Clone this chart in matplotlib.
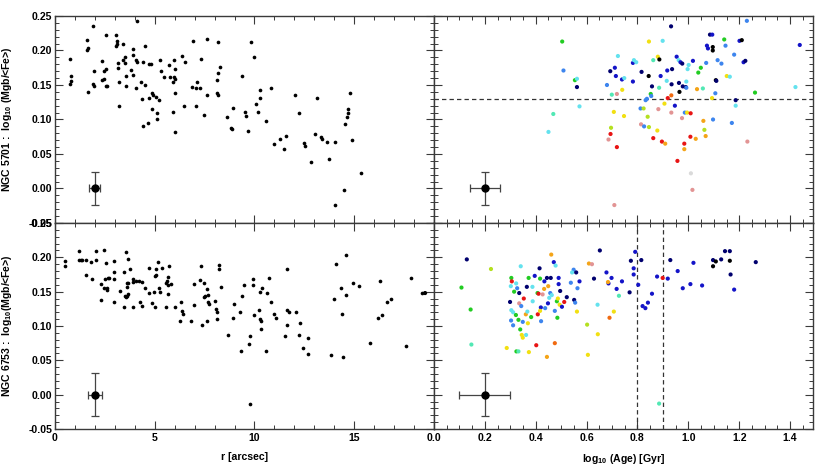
import matplotlib
matplotlib.use("Agg")
import matplotlib.pyplot as plt
from matplotlib.ticker import MultipleLocator, FixedLocator, FormatStrFormatter

plt.rcParams['font.family'] = ['Liberation Sans', 'DejaVu Sans']
plt.rcParams['font.weight'] = 'bold'
plt.rcParams['mathtext.fontset'] = 'custom'
plt.rcParams['mathtext.rm'] = 'Liberation Sans:bold'
plt.rcParams['mathtext.it'] = 'Liberation Sans:bold'
plt.rcParams['mathtext.bf'] = 'Liberation Sans:bold'
plt.rcParams['mathtext.default'] = 'rm'

# ---------------- data ----------------
# NGC 5701 : radius vs log10(Mgb/<Fe>)
r_5701 = [0.76,0.81,0.78,0.76,1.61,1.63,1.59,1.66,1.91,1.96,
          1.91,1.96,2.34,2.36,2.46,2.46,2.54,2.57,2.54,2.61,
          3.04,3.12,3.11,3.04,3.17,3.17,3.19,3.19,3.39,3.39,
          3.50,3.52,3.54,3.57,3.82,3.89,3.89,3.89,4.04,4.12,
          4.09,4.07,4.30,4.37,4.42,4.40,4.53,4.50,4.67,4.70,
          4.72,4.83,4.88,4.92,4.87,5.07,5.10,5.10,5.20,5.27,
          5.32,5.45,5.70,5.75,5.90,5.98,5.96,6.03,6.01,5.91,
          6.03,6.03,6.36,6.45,6.53,6.93,6.89,7.06,7.06,7.13,
          7.26,7.34,7.46,7.64,7.64,8.16,8.12,8.17,8.26,8.14,
          8.17,8.62,8.84,8.87,8.94,9.35,9.55,9.57,9.67,9.82,
          9.98,10.07,10.20,10.27,10.30,10.58,10.85,10.98,11.28,11.50,
          11.59,12.04,12.23,12.49,12.51,12.84,13.04,13.12,13.32,13.37,
          13.62,13.75,14.04,14.05,14.47,14.55,14.62,14.67,14.70,14.78,
          14.90,15.35]
mgfe_r_5701 = [0.188,0.163,0.156,0.151,0.215,0.203,0.200,0.140,0.235,0.170,
               0.152,0.149,0.185,0.157,0.158,0.170,0.223,0.173,0.148,0.148,
               0.223,0.214,0.210,0.206,0.182,0.175,0.155,0.120,0.209,0.186,
               0.182,0.190,0.163,0.148,0.172,0.202,0.194,0.164,0.186,0.184,
               0.243,0.145,0.154,0.129,0.183,0.090,0.207,0.150,0.095,0.131,
               0.181,0.181,0.138,0.136,0.115,0.133,0.110,0.100,0.128,0.186,
               0.171,0.162,0.179,0.161,0.155,0.161,0.186,0.173,0.158,0.111,
               0.139,0.082,0.192,0.119,0.183,0.214,0.147,0.145,0.120,0.155,
               0.146,0.187,0.107,0.216,0.136,0.213,0.157,0.168,0.176,0.138,
               0.136,0.104,0.088,0.086,0.116,0.163,0.111,0.105,0.084,0.213,
               0.191,0.123,0.111,0.131,0.143,0.098,0.145,0.065,0.072,0.057,
               0.076,0.135,0.109,0.066,0.061,0.039,0.079,0.131,0.075,0.072,
               0.068,0.043,0.068,-0.024,-0.002,0.093,0.103,0.109,0.115,0.138,
               0.071,0.022]

# NGC 5701 : log10(Age) vs log10(Mgb/<Fe>), colour class per point
age_5701 = [0.504,0.509,0.554,0.562,0.562,0.572,0.469,0.450,0.680,0.693,
            0.711,0.715,0.723,0.739,0.748,0.740,0.719,0.699,0.707,0.747,
            0.696,0.694,0.686,0.719,0.709,0.782,0.786,0.795,0.782,0.816,
            0.845,0.844,0.857,0.852,0.837,0.832,0.854,0.812,0.824,0.840,
            0.814,0.826,0.845,0.878,0.862,0.896,0.909,0.899,0.862,0.880,
            0.886,0.891,0.885,0.915,0.917,0.936,0.932,0.934,0.919,0.933,
            0.906,0.882,0.933,0.947,0.954,0.962,0.969,0.976,0.963,0.965,
            0.978,0.990,0.992,0.992,0.997,1.001,1.018,1.039,1.049,1.034,
            1.057,0.975,0.986,0.995,1.009,0.957,1.008,0.984,0.984,1.029,
            1.059,1.063,1.068,1.010,1.016,1.070,1.073,1.077,1.085,1.094,
            1.096,1.096,1.108,1.110,1.106,1.093,1.097,1.115,1.130,1.141,
            1.146,1.151,1.163,1.180,1.186,1.186,1.171,1.201,1.210,1.217,
            1.224,1.230,1.232,1.262,1.421,1.438]
mgfe_a_5701 = [0.213,0.171,0.157,0.159,0.147,0.119,0.108,0.082,0.150,0.170,
               0.175,0.163,0.192,0.158,0.160,0.143,0.137,0.136,0.111,0.105,
               0.088,0.079,0.071,0.060,-0.024,0.182,0.186,0.183,0.155,0.169,
               0.213,0.163,0.148,0.137,0.130,0.128,0.134,0.116,0.116,0.104,
               0.093,0.090,0.089,0.084,0.073,0.068,0.065,0.214,0.186,0.191,
               0.187,0.163,0.146,0.156,0.171,0.173,0.235,0.151,0.131,0.135,
               0.123,0.115,0.110,0.120,0.191,0.186,0.183,0.181,0.153,0.140,
               0.148,0.147,0.146,0.155,0.173,0.179,0.185,0.168,0.175,0.144,
               0.145,0.102,0.110,0.110,0.109,0.040,0.075,0.065,0.057,0.072,
               0.098,0.085,0.076,0.022,-0.002,0.182,0.207,0.203,0.223,0.223,
               0.205,0.200,0.157,0.156,0.138,0.131,0.100,0.186,0.181,0.216,
               0.207,0.163,0.162,0.194,0.128,0.120,0.095,0.214,0.215,0.183,
               0.185,0.243,0.068,0.139,0.147,0.208]
cls_5701 = ['G','L','G','C','N','C','A','C','L','N',
            'B','B','C','B','C','Y','P','A','Y','Y',
            'YG','R','P','R','P','B','C','C','B','N',
            'Y','K','N','G','L','L','L','L','YG','YG',
            'P','L','YG','Y','R','R','O','C','A','Y',
            'K','B','A','C','B','N','N','N','R','OR',
            'Y','P','P','B','B','C','B','N','N','K',
            'N','N','L','C','C','C','B','G','G','O',
            'A','P','L','Y','R','R','R','R','O','O',
            'O','YG','O','W','P','L','B','B','N','B',
            'K','K','K','N','L','Y','L','L','L','G',
            'L','Y','C','L','N','C','L','B','K','B',
            'N','L','P','G','C','B']

# NGC 6753 : radius vs log10(Mgb/<Fe>)
r_6753 = [0.51,0.51,1.21,1.21,1.28,1.35,1.54,1.81,2.04,2.04,
          1.83,1.54,2.33,2.33,2.44,2.57,2.52,2.66,2.71,2.46,
          2.61,2.61,2.94,2.94,2.94,2.96,3.24,3.44,3.44,3.57,
          3.67,3.59,3.65,3.62,3.54,3.52,3.62,3.67,3.77,3.92,
          3.92,3.92,4.05,4.19,4.27,4.35,4.35,4.53,4.72,4.72,
          4.85,4.95,5.00,5.05,5.03,5.07,5.17,5.23,5.28,5.35,
          5.55,5.56,5.61,5.66,5.66,5.73,5.68,5.81,6.03,6.31,
          6.28,6.36,6.41,6.81,6.96,6.98,7.28,7.31,7.36,7.46,
          7.48,7.51,7.62,7.61,7.69,7.66,7.73,8.02,8.06,8.12,
          8.12,8.22,8.22,8.32,8.69,8.92,8.97,9.32,9.35,9.29,
          9.49,9.73,9.80,9.77,9.93,9.95,10.00,10.22,10.27,10.38,
          10.28,10.32,10.32,10.60,10.61,10.71,10.85,10.98,11.08,11.51,
          11.64,11.63,11.64,11.72,12.08,12.21,12.29,12.43,12.67,12.69,
          13.82,13.97,14.09,14.32,14.40,14.42,14.57,14.59,14.92,15.23,
          15.78,16.20,16.28,16.40,16.64,16.86,17.59,17.86,18.41]
mgfe_r_6753 = [0.195,0.187,0.209,0.196,0.196,0.196,0.196,0.193,0.209,0.196,
               0.169,0.175,0.161,0.138,0.210,0.192,0.168,0.170,0.170,0.155,
               0.155,0.153,0.195,0.179,0.169,0.135,0.151,0.127,0.178,0.208,
               0.197,0.162,0.162,0.157,0.142,0.143,0.144,0.146,0.183,0.169,
               0.164,0.128,0.165,0.165,0.135,0.129,0.164,0.155,0.184,0.148,
               0.133,0.149,0.173,0.183,0.127,0.175,0.193,0.155,0.149,0.184,
               0.128,0.163,0.165,0.159,0.171,0.187,0.146,0.161,0.128,0.135,
               0.108,0.122,0.118,0.107,0.131,0.161,0.167,0.187,0.101,0.162,
               0.142,0.143,0.107,0.154,0.145,0.135,0.132,0.136,0.125,0.121,
               0.110,0.189,0.183,0.157,0.087,0.112,0.132,0.064,0.143,0.121,
               0.159,0.074,0.085,-0.013,0.169,0.160,0.116,0.123,0.149,0.155,
               0.110,0.108,0.095,0.063,0.148,0.170,0.135,0.118,0.112,0.086,
               0.183,0.102,0.123,0.121,0.121,0.087,0.104,0.068,0.059,0.083,
               0.058,0.140,0.191,0.155,0.118,0.055,0.204,0.145,0.162,0.158,
               0.075,0.112,0.165,0.116,0.135,0.140,0.071,0.170,0.148]

# NGC 6753 : log10(Age) vs log10(Mgb/<Fe>)
age_6753 = [-0.035,0.129,0.108,0.224,0.144,0.147,0.286,0.299,0.304,0.306,
            0.302,0.323,0.315,0.327,0.335,0.341,0.335,0.343,0.304,0.311,
            0.322,0.303,0.311,0.332,0.349,0.339,0.345,0.349,0.324,0.332,
            0.353,0.361,0.367,0.362,0.369,0.373,0.365,0.372,0.387,0.396,
            0.382,0.388,0.402,0.407,0.411,0.408,0.417,0.415,0.427,0.420,
            0.417,0.421,0.434,0.444,0.433,0.437,0.448,0.444,0.461,0.453,
            0.449,0.459,0.457,0.463,0.471,0.478,0.475,0.475,0.483,0.485,
            0.487,0.490,0.490,0.496,0.494,0.503,0.512,0.522,0.549,0.543,
            0.559,0.538,0.572,0.564,0.551,0.555,0.562,0.643,0.602,0.605,
            0.644,0.652,0.609,0.621,0.629,0.678,0.686,0.684,0.698,0.718,
            0.739,0.727,0.707,0.690,0.769,0.774,0.791,0.785,0.785,0.803,
            0.815,0.820,0.831,0.841,0.857,0.877,0.899,0.885,0.919,0.929,
            0.958,0.978,1.008,1.020,1.054,1.097,1.108,1.097,1.129,1.144,
            1.163,1.163,1.166,1.180,1.265]
mgfe_a_6753 = [0.148,0.197,0.156,0.183,0.124,0.073,0.068,0.135,0.170,0.165,
               0.158,0.162,0.150,0.155,0.148,0.187,0.133,0.129,0.123,0.120,
               0.116,0.108,0.101,0.109,0.106,0.095,0.087,0.083,0.063,0.063,
               0.140,0.117,0.121,0.087,0.104,0.062,0.157,0.170,0.157,0.173,
               0.113,0.136,0.072,0.148,0.147,0.117,0.169,0.184,0.146,0.127,
               0.122,0.107,0.165,0.170,0.154,0.126,0.133,0.055,0.204,0.141,
               0.158,0.170,0.148,0.145,0.193,0.188,0.075,0.122,0.136,0.112,
               0.140,0.170,0.161,0.151,0.131,0.128,0.135,0.142,0.182,0.178,
               0.178,0.163,0.165,0.155,0.138,0.134,0.121,0.131,0.102,0.058,
               0.088,0.210,0.191,0.190,0.169,0.178,0.162,0.164,0.170,0.154,
               0.165,0.144,0.121,0.112,0.149,0.195,0.208,0.184,0.175,0.160,
               0.196,0.129,0.126,0.134,0.147,0.172,0.170,-0.013,0.169,0.196,
               0.180,0.155,0.161,0.192,0.159,0.196,0.194,0.187,0.197,0.209,
               0.209,0.195,0.175,0.153,0.193]
cls_6753 = ['K','N','G','YG','G','A','Y','N','G','R',
            'C','C','G','L','N','C','P','L','C','C',
            'G','L','L','G','L','G','Y','Y','G','A',
            'R','O','C','C','Y','Y','N','G','C','B',
            'G','C','R','G','R','R','G','N','P','B',
            'Y','L','B','N','O','L','B','O','O','C',
            'O','N','L','C','B','C','OR','L','G','G',
            'Y','B','B','N','Y','B','R','N','L','C',
            'N','L','B','L','N','L','Y','C','YG','Y',
            'Y','N','O','P','N','B','B','O','B','B',
            'B','A','Y','OR','N','N','B','B','B','B',
            'N','B','B','B','B','B','R','A','B','N',
            'B','B','B','B','B','N','K','K','N','N',
            'N','K','N','B','N']

# typical error bars: (x, y, xerr, yerr)
err_r_5701 = (2.0, 0.0, 0.28, 0.024)
err_a_5701 = (0.2, 0.0, 0.06, 0.024)
err_r_6753 = (2.0, 0.0, 0.37, 0.031)
err_a_6753 = (0.2, 0.0, 0.10, 0.031)

hline_5701 = 0.13
vlines_6753 = [0.8, 0.9]

palette = {'K': '#000000', 'N': '#00006e', 'B': '#1414c8', 'L': '#3d85ee',
           'C': '#64e2ee', 'A': '#52e8b4', 'G': '#22cc22', 'YG': '#b4e020',
           'Y': '#f2e012', 'O': '#f4a418', 'OR': '#f06a10', 'R': '#e81414',
           'P': '#e29494', 'W': '#dadada'}

# ---------------- figure ----------------
fig = plt.figure(figsize=(8.3, 4.65), dpi=100)
W, H = 830.0, 465.0
def pos(x0, y0, x1, y1):
    return [x0 / W, 1 - y1 / H, (x1 - x0) / W, (y1 - y0) / H]

ax_tl = fig.add_axes(pos(55, 16, 434, 223))
ax_tr = fig.add_axes(pos(434, 16, 813, 223))
ax_bl = fig.add_axes(pos(55, 223, 434, 429))
ax_br = fig.add_axes(pos(434, 223, 813, 429))

frame_col = '#3a3a3a'
fs = 7.6

for ax in (ax_tl, ax_tr, ax_bl, ax_br):
    ax.set_ylim(-0.05, 0.25)
    ax.yaxis.set_major_locator(MultipleLocator(0.05))
    ax.yaxis.set_minor_locator(MultipleLocator(0.01))
    ax.yaxis.set_major_formatter(FormatStrFormatter('%.2f'))
    ax.tick_params(which='both', direction='in', top=True, right=True,
                   colors=frame_col, labelcolor='black', labelsize=fs)
    ax.tick_params(which='major', length=6, width=0.8)
    ax.tick_params(which='minor', length=3, width=0.7)
    ax.tick_params(axis='y', pad=2)
    ax.tick_params(axis='x', pad=3)
    for s in ax.spines.values():
        s.set_color(frame_col)
        s.set_linewidth(1.0)

for ax in (ax_tl, ax_bl):
    ax.set_xlim(0, 19)
    ax.xaxis.set_major_locator(FixedLocator([0, 5, 10, 15]))
    ax.xaxis.set_minor_locator(MultipleLocator(1))
    ax.xaxis.set_major_formatter(FormatStrFormatter('%d'))
for ax in (ax_tr, ax_br):
    ax.set_xlim(0, 1.49)
    ax.xaxis.set_major_locator(MultipleLocator(0.2))
    ax.xaxis.set_minor_locator(MultipleLocator(0.05))
    ax.xaxis.set_major_formatter(FormatStrFormatter('%.1f'))
    ax.tick_params(axis='y', labelleft=False)
for ax in (ax_tl, ax_tr):
    ax.tick_params(axis='x', labelbottom=False)

for lab in ax_tl.get_yticklabels() + ax_bl.get_yticklabels() + \
        ax_bl.get_xticklabels() + ax_br.get_xticklabels():
    lab.set_fontweight('bold')

# black points
ax_tl.scatter(r_5701, mgfe_r_5701, s=7, c='black', linewidths=0, zorder=3)
ax_bl.scatter(r_6753, mgfe_r_6753, s=7, c='black', linewidths=0, zorder=3)

# coloured points
ax_tr.scatter(age_5701, mgfe_a_5701, s=9, c=[palette[k] for k in cls_5701],
              linewidths=0, zorder=3)
ax_br.scatter(age_6753, mgfe_a_6753, s=9, c=[palette[k] for k in cls_6753],
              linewidths=0, zorder=3, clip_on=False)

# reference lines
ax_tr.axhline(hline_5701, color='#333333', lw=0.9, ls=(0, (3.5, 2.5)), zorder=2)
for v in vlines_6753:
    ax_br.axvline(v, color='#333333', lw=0.9, ls=(0, (3.5, 2.5)), zorder=2)

# error bar symbols
for ax, (ex, ey, dx, dy) in ((ax_tl, err_r_5701), (ax_tr, err_a_5701),
                             (ax_bl, err_r_6753), (ax_br, err_a_6753)):
    ax.errorbar([ex], [ey], xerr=[dx], yerr=[dy], fmt='o', color='black',
                ecolor='#444444', elinewidth=0.9, capsize=2.8, capthick=0.9,
                markersize=5, zorder=4)

# labels
ax_tl.set_ylabel(r'NGC 5701 :  log$_{10}$ (Mgb/<Fe>)', fontsize=fs, fontweight='bold')
ax_bl.set_ylabel(r'NGC 6753 :  log$_{10}$(Mgb/<Fe>)', fontsize=fs, fontweight='bold')
ax_tl.yaxis.set_label_coords(-0.108, 0.5)
ax_bl.yaxis.set_label_coords(-0.108, 0.5)
ax_bl.set_xlabel('r [arcsec]', fontsize=fs, fontweight='bold')
ax_br.set_xlabel(r'log$_{10}$ (Age) [Gyr]', fontsize=fs, fontweight='bold')
ax_bl.xaxis.set_label_coords(0.5, -0.11)
ax_br.xaxis.set_label_coords(0.5, -0.11)

fig.savefig('out.png', dpi=100, facecolor='white')
